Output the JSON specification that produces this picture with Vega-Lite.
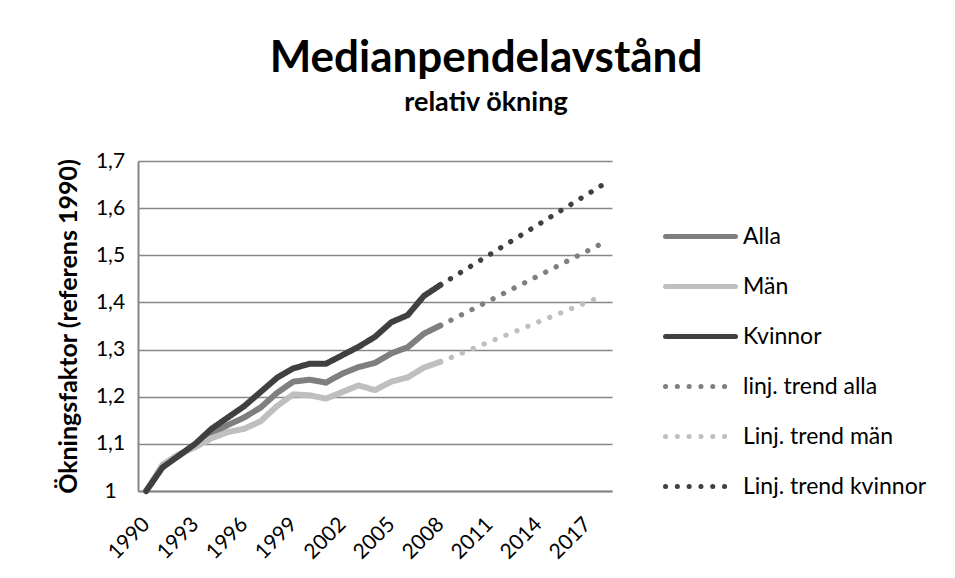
{
  "$schema": "https://vega.github.io/schema/vega-lite/v6.json",
  "width": 474,
  "height": 330,
  "autosize": {"type": "none"},
  "padding": {"left": 138, "top": 161, "right": 343, "bottom": 87},
  "background": "white",
  "title": {
    "text": "Medianpendelavstånd",
    "subtitle": "relativ ökning",
    "anchor": "middle",
    "dx": 111,
    "offset": 34,
    "font": "Lato",
    "fontSize": 44,
    "fontWeight": "bold",
    "color": "black",
    "subtitleFont": "Lato",
    "subtitleFontSize": 27,
    "subtitleFontWeight": "bold",
    "subtitleColor": "black",
    "subtitlePadding": 9
  },
  "config": {
    "font": "Lato",
    "view": {"stroke": null},
    "legend": {
      "orient": "none",
      "legendX": 525,
      "legendY": 38,
      "title": null,
      "labelFont": "Lato",
      "labelFontSize": 23,
      "labelColor": "black",
      "labelLimit": 0,
      "symbolType": "stroke",
      "symbolSize": 4900,
      "symbolStrokeWidth": 5,
      "labelOffset": 5,
      "rowPadding": -4.5
    }
  },
  "data": {
    "values": [
      {"year": 1990, "series": "Alla", "value": 1.0},
      {"year": 1991, "series": "Alla", "value": 1.052},
      {"year": 1992, "series": "Alla", "value": 1.075},
      {"year": 1993, "series": "Alla", "value": 1.098},
      {"year": 1994, "series": "Alla", "value": 1.12},
      {"year": 1995, "series": "Alla", "value": 1.14},
      {"year": 1996, "series": "Alla", "value": 1.156},
      {"year": 1997, "series": "Alla", "value": 1.177},
      {"year": 1998, "series": "Alla", "value": 1.208},
      {"year": 1999, "series": "Alla", "value": 1.232},
      {"year": 2000, "series": "Alla", "value": 1.236},
      {"year": 2001, "series": "Alla", "value": 1.23},
      {"year": 2002, "series": "Alla", "value": 1.249},
      {"year": 2003, "series": "Alla", "value": 1.263},
      {"year": 2004, "series": "Alla", "value": 1.272},
      {"year": 2005, "series": "Alla", "value": 1.292},
      {"year": 2006, "series": "Alla", "value": 1.305},
      {"year": 2007, "series": "Alla", "value": 1.334},
      {"year": 2008, "series": "Alla", "value": 1.351},
      {"year": 1990, "series": "Män", "value": 1.0},
      {"year": 1991, "series": "Män", "value": 1.056},
      {"year": 1992, "series": "Män", "value": 1.078},
      {"year": 1993, "series": "Män", "value": 1.093},
      {"year": 1994, "series": "Män", "value": 1.112},
      {"year": 1995, "series": "Män", "value": 1.125},
      {"year": 1996, "series": "Män", "value": 1.132},
      {"year": 1997, "series": "Män", "value": 1.148},
      {"year": 1998, "series": "Män", "value": 1.18},
      {"year": 1999, "series": "Män", "value": 1.205},
      {"year": 2000, "series": "Män", "value": 1.203},
      {"year": 2001, "series": "Män", "value": 1.196},
      {"year": 2002, "series": "Män", "value": 1.21},
      {"year": 2003, "series": "Män", "value": 1.224},
      {"year": 2004, "series": "Män", "value": 1.214},
      {"year": 2005, "series": "Män", "value": 1.232},
      {"year": 2006, "series": "Män", "value": 1.241},
      {"year": 2007, "series": "Män", "value": 1.262},
      {"year": 2008, "series": "Män", "value": 1.274},
      {"year": 1990, "series": "Kvinnor", "value": 1.0},
      {"year": 1991, "series": "Kvinnor", "value": 1.05},
      {"year": 1992, "series": "Kvinnor", "value": 1.075},
      {"year": 1993, "series": "Kvinnor", "value": 1.1},
      {"year": 1994, "series": "Kvinnor", "value": 1.132},
      {"year": 1995, "series": "Kvinnor", "value": 1.156},
      {"year": 1996, "series": "Kvinnor", "value": 1.18},
      {"year": 1997, "series": "Kvinnor", "value": 1.21},
      {"year": 1998, "series": "Kvinnor", "value": 1.24},
      {"year": 1999, "series": "Kvinnor", "value": 1.26},
      {"year": 2000, "series": "Kvinnor", "value": 1.27},
      {"year": 2001, "series": "Kvinnor", "value": 1.27},
      {"year": 2002, "series": "Kvinnor", "value": 1.288},
      {"year": 2003, "series": "Kvinnor", "value": 1.306},
      {"year": 2004, "series": "Kvinnor", "value": 1.327},
      {"year": 2005, "series": "Kvinnor", "value": 1.358},
      {"year": 2006, "series": "Kvinnor", "value": 1.373},
      {"year": 2007, "series": "Kvinnor", "value": 1.414},
      {"year": 2008, "series": "Kvinnor", "value": 1.437},
      {"year": 2008, "series": "linj. trend alla", "value": 1.351},
      {"year": 2018, "series": "linj. trend alla", "value": 1.527},
      {"year": 2008, "series": "Linj. trend män", "value": 1.274},
      {"year": 2018, "series": "Linj. trend män", "value": 1.415},
      {"year": 2008, "series": "Linj. trend kvinnor", "value": 1.437},
      {"year": 2018, "series": "Linj. trend kvinnor", "value": 1.651}
    ]
  },
  "encoding": {
    "x": {
      "field": "year",
      "type": "quantitative",
      "scale": {"domain": [1989.5, 2018.5], "nice": false, "zero": false},
      "axis": {
        "title": null,
        "values": [1990, 1993, 1996, 1999, 2002, 2005, 2008, 2011, 2014, 2017],
        "format": "d",
        "grid": false,
        "ticks": false,
        "domainColor": "#868686",
        "domainWidth": 2,
        "labelAngle": -45,
        "labelAlign": "right",
        "labelBaseline": "middle",
        "labelPadding": 30,
        "labelFont": "Lato",
        "labelFontSize": 21,
        "labelColor": "black",
        "labelFlush": false,
        "labelOverlap": false
      }
    },
    "y": {
      "field": "value",
      "type": "quantitative",
      "scale": {"domain": [1, 1.7], "nice": false, "zero": false},
      "axis": {
        "title": "Ökningsfaktor (referens 1990)",
        "titleFont": "Lato",
        "titleFontSize": 25,
        "titleFontWeight": "bold",
        "titleColor": "black",
        "titlePadding": 14,
        "values": [1, 1.1, 1.2, 1.3, 1.4, 1.5, 1.6, 1.7],
        "labelExpr": "replace(format(datum.value, '.1~f'), '.', ',')",
        "ticks": false,
        "grid": true,
        "gridColor": "#868686",
        "gridWidth": 1.6,
        "domainColor": "#868686",
        "domainWidth": 2,
        "labelAlign": "center",
        "labelPadding": 28,
        "labelFont": "Lato",
        "labelFontSize": 21,
        "labelColor": "black",
        "labelFlush": false
      }
    },
    "color": {
      "field": "series",
      "type": "nominal",
      "scale": {
        "domain": ["Alla", "Män", "Kvinnor", "linj. trend alla", "Linj. trend män", "Linj. trend kvinnor"],
        "range": ["#7f7f7f", "#bfbfbf", "#404040", "#7f7f7f", "#bfbfbf", "#404040"]
      },
      "legend": {
        "encoding": {"symbols": {"strokeCap": {"value": "round"}}}
      }
    },
    "strokeDash": {
      "field": "series",
      "type": "nominal",
      "scale": {
        "domain": ["Alla", "Män", "Kvinnor", "linj. trend alla", "Linj. trend män", "Linj. trend kvinnor"],
        "range": [[1, 0], [1, 0], [1, 0], [0.1, 11.7], [0.1, 11.7], [0.1, 11.7]]
      },
      "legend": {
        "encoding": {"symbols": {"strokeCap": {"value": "round"}}}
      }
    }
  },
  "layer": [
    {
      "transform": [{"filter": {"field": "series", "oneOf": ["Alla", "Män", "Kvinnor"]}}],
      "mark": {"type": "line", "strokeWidth": 6, "strokeCap": "round", "strokeJoin": "round"}
    },
    {
      "transform": [{"filter": {"field": "series", "oneOf": ["linj. trend alla", "Linj. trend män", "Linj. trend kvinnor"]}}],
      "mark": {"type": "line", "strokeWidth": 5.3, "strokeCap": "round", "strokeJoin": "round"}
    }
  ]
}
